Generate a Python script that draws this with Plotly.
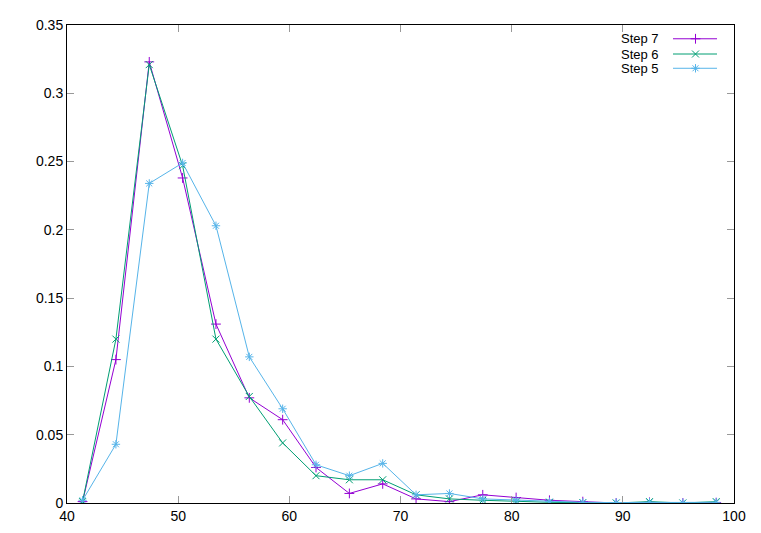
import plotly.graph_objects as go

# bin centres (x) and the three series
x = [41.4, 44.4, 47.4, 50.4, 53.4, 56.4, 59.4, 62.4, 65.4, 68.4,
     71.4, 74.4, 77.4, 80.4, 83.4, 86.4, 89.4, 92.4, 95.4, 98.4]
step7 = [0.001, 0.105, 0.323, 0.238, 0.131, 0.077, 0.061, 0.026, 0.007, 0.014,
         0.003, 0.001, 0.006, 0.004, 0.002, 0.001, 0.0, 0.0005, 0.0, 0.0003]
step6 = [0.001, 0.120, 0.321, 0.247, 0.120, 0.078, 0.044, 0.020, 0.017, 0.017,
         0.006, 0.003, 0.002, 0.001, 0.0005, 0.0003, 0.0, 0.001, 0.0, 0.001]
step5 = [0.002, 0.043, 0.234, 0.249, 0.203, 0.107, 0.069, 0.028, 0.020, 0.029,
         0.006, 0.007, 0.003, 0.002, 0.001, 0.0005, 0.0003, 0.0005, 0.0002, 0.0005]

names = ["Step 7", "Step 6", "Step 5"]
colors = ["#9400d3", "#009e73", "#56b4e9"]
symbols = ["cross-thin-open", "x-thin-open", "asterisk-open"]
series = [step7, step6, step5]

fig = go.Figure()
for name, ys, c, s in zip(names, series, colors, symbols):
    fig.add_trace(go.Scatter(x=x, y=ys, mode="lines+markers", name=name,
                             line=dict(color=c, width=1),
                             marker=dict(symbol=s, size=7, color=c,
                                         line=dict(color=c, width=1))))

# gnuplot-style key: text on the left, sample on the right.
# overlay axes count pixels from the top-left corner of the plot area
plot_h = 486
rows = [14, 29.5, 44]
for name, c, s, ry in zip(names, colors, symbols, rows):
    fig.add_trace(go.Scatter(x=[606, 650], y=[ry, ry], mode="lines",
                             line=dict(color=c, width=1), xaxis="x2", yaxis="y2",
                             showlegend=False, hoverinfo="skip"))
    fig.add_trace(go.Scatter(x=[628.5], y=[ry], mode="markers",
                             marker=dict(symbol=s, size=7, color=c,
                                         line=dict(color=c, width=1)),
                             xaxis="x2", yaxis="y2", showlegend=False, hoverinfo="skip"))
    fig.add_annotation(x=594, y=ry, xref="x2", yref="y2", text=name,
                       showarrow=False, xanchor="right", yanchor="middle",
                       font=dict(size=13, color="black"))

axis_style = dict(showgrid=False, zeroline=False, showline=True, linecolor="black",
                  linewidth=1, mirror="ticks", ticks="inside", ticklen=7,
                  tickcolor="#999999", tickfont=dict(size=14, color="black"))

# page body has an 8px margin, so the figure is shrunk by that much
fig.update_layout(
    width=753, height=525,
    margin=dict(l=59, r=27, t=9, b=30),
    paper_bgcolor="white", plot_bgcolor="white",
    font=dict(family="Liberation Sans, Arial, sans-serif", size=14, color="black"),
    showlegend=False,
    xaxis=dict(range=[40, 100], dtick=10, **axis_style),
    yaxis=dict(range=[0, 0.35], dtick=0.05, **axis_style),
    xaxis2=dict(range=[0, 667], overlaying="x", visible=False),
    yaxis2=dict(range=[plot_h, 0], overlaying="y", visible=False),
)

fig.write_html("out.html")
